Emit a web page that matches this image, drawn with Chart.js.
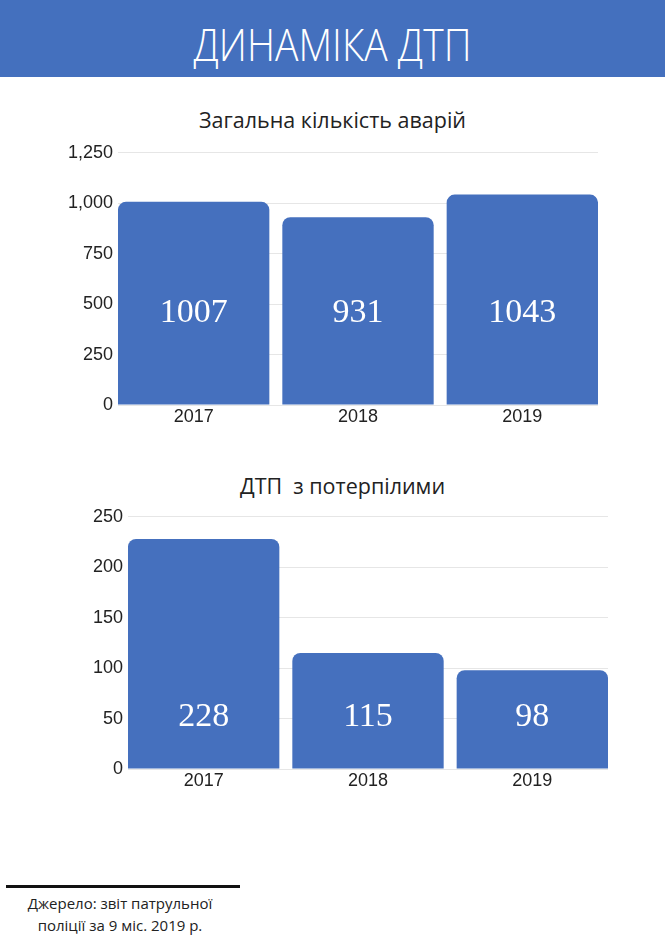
<!DOCTYPE html>
<html>
<head>
<meta charset="utf-8">
<script src="https://cdn.jsdelivr.net/npm/chart.js@4"></script>
<style>
  html, body { margin: 0; padding: 0; background: #fff; width: 665px; height: 941px; overflow: hidden; position: relative; }
  .header { position: absolute; left: 0; top: 0; width: 665px; height: 77px; background: #4470be; }
  .header h1 { margin: 0; position: absolute; left: 0; width: 665px; top: 14px; text-align: center; color: #fff;
    font-family: "Open Sans", sans-serif; font-weight: 300; font-size: 44px; line-height: 60px;
    transform: scaleX(0.886); transform-origin: 332px 0; }
  .title { position: absolute; width: 665px; text-align: center; color: #222;
    font-family: "Open Sans", sans-serif; font-size: 21.5px; line-height: 30px; white-space: pre; }
  .box { position: absolute; width: 665px; height: 298px; }
  .rule { position: absolute; left: 6px; top: 885px; width: 234px; height: 3px; background: #111; }
  .source { position: absolute; left: 0; top: 892px; width: 240px; text-align: center; color: #222;
    font-family: "Open Sans", sans-serif; font-size: 15px; line-height: 22px; }
</style>
</head>
<body>
<div class="header"><h1>ДИНАМІКА ДТП</h1></div>
<div class="title" style="left:0; top:105px;">Загальна кількість аварій</div>
<div class="box" style="left:0; top:137px;"><canvas id="c1"></canvas></div>
<div class="title" style="left:10px; top:471px;">ДТП  з потерпілими</div>
<div class="box" style="left:10px; top:501px;"><canvas id="c2"></canvas></div>
<div class="rule"></div>
<div class="source">Джерело: звіт патрульної<br>поліції за 9 міс. 2019 р.</div>

<script>
const years = [2017, 2018, 2019];
const accidents = [1007, 931, 1043];
const injured = [228, 115, 98];
const accidentTicks = { max: 1250, step: 250 };
const injuredTicks = { max: 250, step: 50 };

const blue = '#4570be';

// white numbers inside the bars
const barLabels = {
  id: 'barLabels',
  afterDatasetsDraw(chart, args, opts) {
    const ctx = chart.ctx;
    const bottom = chart.chartArea.bottom;
    ctx.save();
    ctx.fillStyle = '#fff';
    ctx.font = '34px "Liberation Serif", serif';
    ctx.textAlign = 'center';
    ctx.textBaseline = 'alphabetic';
    chart.getDatasetMeta(0).data.forEach((bar, i) => {
      ctx.fillText(String(chart.data.datasets[0].data[i]), bar.x, bottom - opts.offset);
    });
    ctx.restore();
  }
};

function makeChart(id, values, yt, labelOffset) {
  // gap of 13px between bars, bars touch both edges of the plot
  const edge = 0.5 - 6.5 / 164.33;
  return new Chart(document.getElementById(id), {
    type: 'bar',
    data: {
      labels: years,
      datasets: [{
        data: values,
        backgroundColor: blue,
        borderRadius: 8,
        borderSkipped: 'start',
        categoryPercentage: 1,
        barPercentage: 0.921
      }]
    },
    plugins: [barLabels],
    options: {
      responsive: true,
      maintainAspectRatio: false,
      animation: false,
      layout: { padding: { left: 0, right: 67, top: 0, bottom: 0 } },
      plugins: {
        legend: { display: false },
        tooltip: { enabled: false },
        title: { display: false },
        barLabels: { offset: labelOffset }
      },
      scales: {
        x: {
          type: 'linear',
          offset: false,
          min: years[0] - edge,
          max: years[years.length - 1] + edge,
          grid: { display: false, drawTicks: false, offset: false },
          border: { display: false },
          ticks: {
            stepSize: 1,
            includeBounds: false,
            padding: 1,
            color: '#222',
            font: { family: '"Liberation Sans", Arial, sans-serif', size: 18 },
            callback: v => String(v)
          },
          afterFit(scale) { scale.height = 30; }
        },
        y: {
          min: 0,
          max: yt.max,
          grid: { color: '#e6e6e6', drawTicks: false },
          border: { display: false },
          ticks: {
            stepSize: yt.step,
            padding: 5,
            color: '#222',
            font: { family: '"Liberation Sans", Arial, sans-serif', size: 18 },
            callback: v => v.toLocaleString('en-US')
          },
          afterFit(scale) { scale.width = 118; }
        }
      }
    }
  });
}

makeChart('c1', accidents, accidentTicks, 83);
makeChart('c2', injured, injuredTicks, 43);
</script>
</body>
</html>
